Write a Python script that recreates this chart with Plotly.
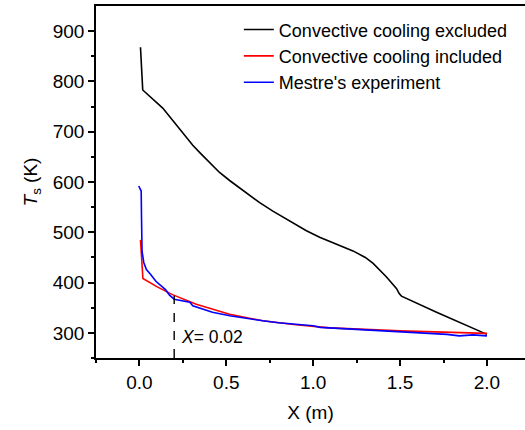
import plotly.graph_objects as go

# Surface temperature along the plate
black_x = [0.006, 0.012, 0.019, 0.134, 0.23, 0.307, 0.346, 0.42, 0.461, 0.519,
           0.576, 0.615, 0.692, 0.768, 0.826, 0.903, 0.961, 1.037, 1.114, 1.229,
           1.30, 1.345, 1.422, 1.46, 1.48, 1.495, 1.508, 1.71, 1.91, 2.0]
black_y = [868, 824, 783, 747, 706, 673, 659, 633, 619, 603,
           588, 578, 559, 542, 530, 514, 503, 490, 479, 463,
           450, 438, 411, 397, 388, 378, 373, 341, 310, 297]

red_x = [0.006, 0.02, 0.1, 0.19, 0.327, 0.519, 0.71, 0.90, 1.095, 1.5, 2.0]
red_y = [485, 408, 392, 376, 357, 337, 324, 316, 310, 304, 299]

blue_x = [-0.004, 0.01, 0.012, 0.013, 0.015, 0.025, 0.04, 0.06, 0.096, 0.15,
          0.173, 0.2, 0.24, 0.29, 0.307, 0.35, 0.42, 0.52, 0.62, 0.71,
          0.8, 0.9, 1.0, 1.04, 1.2, 1.36, 1.5, 1.6, 1.69, 1.77,
          1.84, 1.92, 2.0]
blue_y = [592, 582, 530, 490, 462, 440, 426, 418, 402, 386,
          375, 367, 364, 361, 354, 349, 341, 334, 328, 324,
          320, 317, 314, 311, 308, 304, 301, 300, 298, 297,
          294, 296, 294]

# Marker line at the chosen position
marker_x = [0.2, 0.2]
marker_y = [250, 374]

series_names = ["Convective cooling excluded", "Convective cooling included",
                "Mestre's experiment"]

font_family = "Liberation Sans, Arial, sans-serif"

fig = go.Figure()
fig.add_trace(go.Scatter(x=black_x, y=black_y, mode="lines", name=series_names[0],
                         line=dict(color="black", width=1.6)))
fig.add_trace(go.Scatter(x=red_x, y=red_y, mode="lines", name=series_names[1],
                         line=dict(color="#ff0000", width=1.6)))
fig.add_trace(go.Scatter(x=blue_x, y=blue_y, mode="lines", name=series_names[2],
                         line=dict(color="#0000ff", width=1.6)))
fig.add_trace(go.Scatter(x=marker_x, y=marker_y, mode="lines", showlegend=False,
                         line=dict(color="black", width=1.4, dash="dash")))

fig.add_annotation(x=0.225, y=292, xref="x", yref="y", text="<i>X</i>= 0.02",
                   showarrow=False, xanchor="left", yanchor="middle",
                   font=dict(family=font_family, size=17.5, color="black"))

fig.update_layout(
    width=525, height=430,
    margin=dict(l=96, r=0, t=6, b=72),
    plot_bgcolor="white", paper_bgcolor="white",
    font=dict(family=font_family, color="black"),
    showlegend=True,
    legend=dict(x=0.333, y=0.985, xanchor="left", yanchor="top",
                bgcolor="rgba(0,0,0,0)", font=dict(size=18),
                tracegroupgap=0, itemwidth=30),
    xaxis=dict(range=[-0.25, 2.219], tickvals=[0.0, 0.5, 1.0, 1.5, 2.0],
               ticktext=["0.0", "0.5", "1.0", "1.5", "2.0"],
               ticks="outside", ticklen=6, tickwidth=1.5, tickcolor="black",
               minor=dict(tickvals=[-0.25, 0.25, 0.75, 1.25, 1.75], ticks="outside",
                          ticklen=3, tickwidth=1.5, tickcolor="black"),
               showline=True, linecolor="black", linewidth=1.6, mirror=True,
               showgrid=False, zeroline=False,
               tickfont=dict(size=19),
               title=dict(text="X (m)", font=dict(size=19), standoff=14)),
    yaxis=dict(range=[250, 950], tickvals=[300, 400, 500, 600, 700, 800, 900],
               ticks="outside", ticklen=6, tickwidth=1.5, tickcolor="black",
               minor=dict(tickvals=[250, 350, 450, 550, 650, 750, 850], ticks="outside",
                          ticklen=3, tickwidth=1.5, tickcolor="black"),
               showline=True, linecolor="black", linewidth=1.6, mirror=False,
               showgrid=False, zeroline=False,
               tickfont=dict(size=19),
               title=dict(text="<i>T</i><sub>s</sub> (K)", font=dict(size=19), standoff=10)),
)

fig.write_html("out.html")
